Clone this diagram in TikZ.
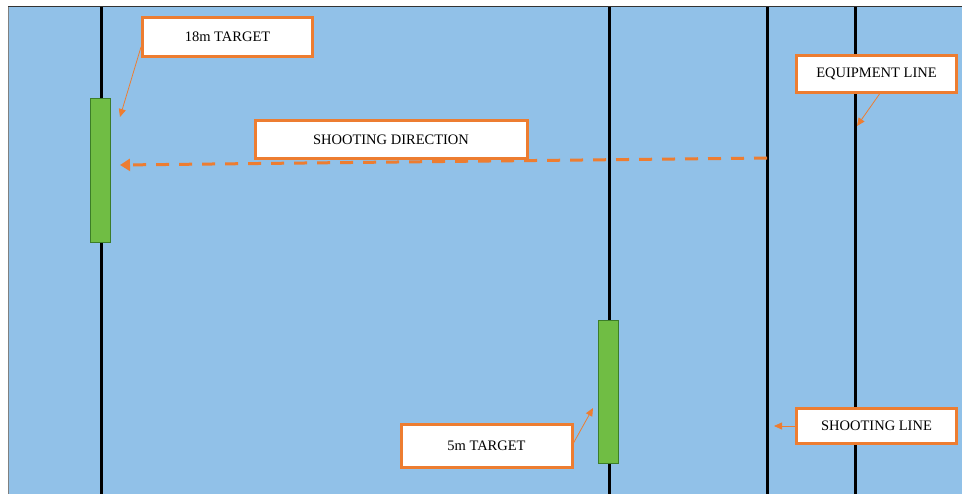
\documentclass[tikz,border=0pt]{standalone}
\usepackage{fontspec}
\setmainfont{Liberation Serif}
\usetikzlibrary{arrows.meta}
\definecolor{bgblue}{RGB}{145,193,232}
\definecolor{orng}{RGB}{237,125,49}
\definecolor{tgreen}{RGB}{112,189,68}
\definecolor{tgreenb}{RGB}{60,125,40}
\tikzset{
  x=1pt,y=-1pt,
  label box/.style={draw=orng,line width=3pt,fill=white,font=\fontsize{14.5}{16}\selectfont,inner sep=0pt},
  pointer/.style={draw=orng,line width=0.8pt,-{Triangle[length=8pt,width=7pt]}},
  targetbox/.style={draw=tgreenb,fill=tgreen,line width=0.8pt},
  rangeline/.style={draw=black,line width=3pt},
}
\begin{document}
\begin{tikzpicture}
\useasboundingbox (0,0) rectangle (962,494);
\fill[white] (0,0) rectangle (962,494);
\fill[bgblue] (8,7) rectangle (962,494);
\draw[black!80,line width=1pt] (8,7) -- (962,7);
\draw[gray,line width=0.8pt] (8,7) -- (8,494);
% vertical lines
\draw[rangeline] (101,7) -- (101,494);
\draw[rangeline] (609,7) -- (609,494);
\draw[rangeline] (767,7) -- (767,494);
\draw[rangeline] (855,7) -- (855,494);
% targets
\draw[targetbox] (90,98) rectangle (110,242);
\draw[targetbox] (598,320) rectangle (618,463);
\coordinate (t18) at (120,117);
\coordinate (eqline) at (857,126);
\coordinate (t5) at (593,408);
\coordinate (shline) at (774,426);
\coordinate (dirstart) at (767,158);
\coordinate (dirend) at (120,165);
% shooting direction dashed arrow
\draw[orng,line width=3pt,dash pattern=on 13pt off 10pt,-{Triangle[length=10pt,width=12pt]}] (dirstart) -- (dirend);
% labels
\node[label box,minimum width=170pt,minimum height=39pt] (l18) at (227.5,37) {18m TARGET};
\node[label box,minimum width=272pt,minimum height=38pt] (ldir) at (391,139.5) {SHOOTING DIRECTION};
\node[label box,minimum width=160pt,minimum height=37pt] (leq) at (876.5,74) {EQUIPMENT LINE};
\node[label box,minimum width=171pt,minimum height=43pt] (l5) at (486.5,446) {5m TARGET};
\node[label box,minimum width=160pt,minimum height=35pt] (lsh) at (876.5,426) {SHOOTING LINE};
% pointers
\draw[pointer] (l18.west) ++(0,10) -- (t18);
\draw[pointer] (leq.south) ++(3,0) -- (eqline);
\draw[pointer] (l5.east) ++(0,-3) -- (t5);
\draw[pointer] (lsh.west) -- (shline);
\end{tikzpicture}
\end{document}
